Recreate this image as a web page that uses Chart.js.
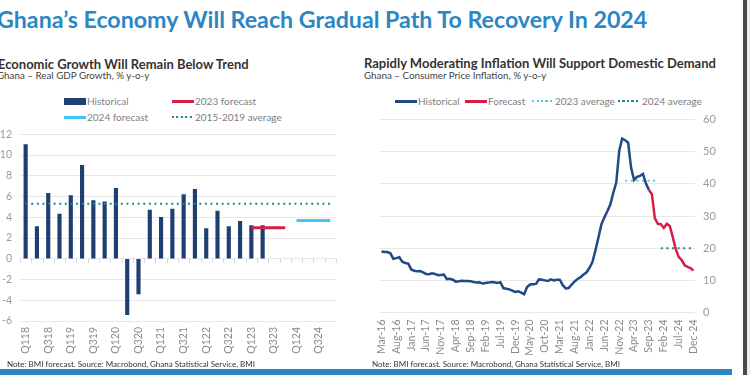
<!DOCTYPE html>
<html>
<head>
<meta charset="utf-8">
<script src="https://cdn.jsdelivr.net/npm/chart.js@4.4.1/dist/chart.umd.min.js"></script>
<style>
  body { margin: 0; width: 750px; height: 375px; overflow: hidden; background: #fff; font-family: Lato, "Noto Sans", sans-serif; position: relative; }
  .abs { position: absolute; white-space: nowrap; }
  .title { left: -3px; top: 5px; font-size: 23.2px; font-weight: bold; color: #2b87c4; }
  .sub { font-size: 13px; font-weight: bold; color: #333; }
  .subsub { font-size: 9.8px; color: #444; }
  .leg { font-size: 10px; color: #808080; line-height: 12px; }
  .note { font-size: 8px; color: #333; }
  .sw { position: absolute; }
  .dots { height: 2px; }
</style>
</head>
<body>
<div class="abs title">Ghana’s Economy Will Reach Gradual Path To Recovery In 2024</div>

<div class="abs sub" style="left:-2px; top:56px;">Economic Growth Will Remain Below Trend</div>
<div class="abs subsub" style="left:-3px; top:69px;">Ghana – Real GDP Growth, % y-o-y</div>

<div class="abs sub" style="left:364px; top:55px;">Rapidly Moderating Inflation Will Support Domestic Demand</div>
<div class="abs subsub" style="left:364px; top:69px;">Ghana – Consumer Price Inflation, % y-o-y</div>

<!-- left legend -->
<div class="sw" style="left:64px; top:98px; width:22px; height:7px; background:#1f3f73;"></div>
<div class="abs leg" style="left:87px; top:95px;">Historical</div>
<div class="sw" style="left:172px; top:100px; width:22px; height:3px; background:#d81e44;"></div>
<div class="abs leg" style="left:195px; top:95px;">2023 forecast</div>
<div class="sw" style="left:64px; top:116px; width:22px; height:3px; background:#3fc6f3;"></div>
<div class="abs leg" style="left:87px; top:111px;">2024 forecast</div>
<div class="sw dots" style="left:172px; top:116px; width:22px; background:repeating-linear-gradient(90deg,#1a8b8f 0 2px,transparent 2px 4.5px);"></div>
<div class="abs leg" style="left:195px; top:111px;">2015-2019 average</div>

<!-- right legend -->
<div class="sw" style="left:395px; top:100px; width:22px; height:3px; background:#1f4a85;"></div>
<div class="abs leg" style="left:418px; top:95px;">Historical</div>
<div class="sw" style="left:465px; top:100px; width:22px; height:3px; background:#d81e44;"></div>
<div class="abs leg" style="left:488px; top:95px;">Forecast</div>
<div class="sw dots" style="left:532px; top:100px; width:22px; background:repeating-linear-gradient(90deg,#4fcaf2 0 2px,transparent 2px 4.5px);"></div>
<div class="abs leg" style="left:555px; top:95px;">2023 average</div>
<div class="sw dots" style="left:618px; top:100px; width:22px; background:repeating-linear-gradient(90deg,#1a8b8f 0 2px,transparent 2px 4.5px);"></div>
<div class="abs leg" style="left:642px; top:95px;">2024 average</div>

<div class="abs" style="left:0; top:120px; width:340px; height:240px;"><canvas id="gdp"></canvas></div>
<div class="abs" style="left:360px; top:105px; width:370px; height:255px;"><canvas id="cpi"></canvas></div>

<div class="abs note" style="left:7px; top:359px;">Note: BMI forecast. Source: Macrobond, Ghana Statistical Service, BMI</div>
<div class="abs note" style="left:372px; top:359px;">Note: BMI forecast. Source: Macrobond, Ghana Statistical Service, BMI</div>

<div class="sw" style="left:0; top:369px; width:732px; height:6px; background:#2b87c4;"></div>
<div class="sw" style="left:743px; top:0; width:4px; height:375px; background:#4a4a4a;"></div>
<div class="sw" style="left:747px; top:0; width:3px; height:375px; background:#eeeeee;"></div>

<script>
// Left chart: real GDP growth by quarter
const quarters = ['Q118','Q218','Q318','Q418','Q119','Q219','Q319','Q419',
                  'Q120','Q220','Q320','Q420','Q121','Q221','Q321','Q421',
                  'Q122','Q222','Q322','Q422','Q123','Q223','Q323','Q423',
                  'Q124','Q224','Q324','Q424'];
const gdpHistorical = [11.0, 3.1, 6.3, 4.3, 6.1, 9.0, 5.6, 5.5, 6.8, -5.4, -3.4, 4.7,
                       4.0, 4.8, 6.2, 6.7, 2.9, 4.6, 3.1, 3.6, 3.2, 3.2];
const gdpForecast2023 = [null,null,null,null,null,null,null,null,null,null,null,null,null,null,
                         null,null,null,null,null,null,3.0,3.0,3.0,3.0,null,null,null,null];
const gdpForecast2024 = [null,null,null,null,null,null,null,null,null,null,null,null,null,null,
                         null,null,null,null,null,null,null,null,null,null,3.7,3.7,3.7,3.7];
const gdpAverage = 5.3;
const gdpTicks = [-6, -4, -2, 0, 2, 4, 6, 8, 10, 12];

// Right chart: CPI inflation by month (Mar-16 .. Dec-24)
const months = [
  'Mar-16','Apr-16','May-16','Jun-16','Jul-16','Aug-16','Sep-16','Oct-16','Nov-16','Dec-16',
  'Jan-17','Feb-17','Mar-17','Apr-17','May-17','Jun-17','Jul-17','Aug-17','Sep-17','Oct-17','Nov-17','Dec-17',
  'Jan-18','Feb-18','Mar-18','Apr-18','May-18','Jun-18','Jul-18','Aug-18','Sep-18','Oct-18','Nov-18','Dec-18',
  'Jan-19','Feb-19','Mar-19','Apr-19','May-19','Jun-19','Jul-19','Aug-19','Sep-19','Oct-19','Nov-19','Dec-19',
  'Jan-20','Feb-20','Mar-20','Apr-20','May-20','Jun-20','Jul-20','Aug-20','Sep-20','Oct-20','Nov-20','Dec-20',
  'Jan-21','Feb-21','Mar-21','Apr-21','May-21','Jun-21','Jul-21','Aug-21','Sep-21','Oct-21','Nov-21','Dec-21',
  'Jan-22','Feb-22','Mar-22','Apr-22','May-22','Jun-22','Jul-22','Aug-22','Sep-22','Oct-22','Nov-22','Dec-22',
  'Jan-23','Feb-23','Mar-23','Apr-23','May-23','Jun-23','Jul-23','Aug-23','Sep-23','Oct-23','Nov-23','Dec-23',
  'Jan-24','Feb-24','Mar-24','Apr-24','May-24','Jun-24','Jul-24','Aug-24','Sep-24','Oct-24','Nov-24','Dec-24'];
const cpiHistorical = [
  19.0, 18.8, 18.8, 18.4, 16.7, 16.9, 17.2, 15.8, 15.4, 15.2,
  13.4, 13.0, 12.8, 12.9, 12.5, 12.0, 11.9, 12.2, 12.0, 11.6, 11.7, 11.8,
  10.4, 10.5, 10.2, 9.6, 9.7, 9.9, 9.8, 9.8, 9.7, 9.5, 9.3, 9.4,
  9.0, 9.2, 9.3, 9.5, 9.4, 9.2, 9.4, 7.6, 7.4, 7.2, 6.8, 6.4,
  6.6, 6.2, 5.7, 7.9, 8.7, 8.8, 8.9, 10.3, 10.2, 10.0, 9.8, 10.3,
  10.0, 10.2, 10.2, 8.5, 7.5, 7.6, 8.7, 9.7, 10.4, 11.0, 11.8, 12.5,
  13.9, 15.7, 19.4, 23.3, 27.4, 29.6, 31.5, 33.6, 37.2, 40.4, 50.3, 54.1,
  53.6, 52.8, 45.0, 41.2, 42.2, 42.5, 43.1, 40.1, 38.1];
const cpiForecast = [38.1, 36.8, 29.3, 27.6, 27.5, 26.3, 27.6, 26.9, 23.5, 19.8, 17.3, 16.3, 14.7, 14.2, 13.8, 13.1];
const avg2023 = 41;
const avg2024 = 20;
const cpiTicks = [0, 10, 20, 30, 40, 50, 60];

const gridColor = '#e8e8e8';
const tickFont = { family: 'Lato', size: 10.5 };

// fixed axis sizes so the plot areas land where the original's do
function fixX(h) {
  return function (scale) { scale.height = h; scale.paddingLeft = 0; scale.paddingRight = 0; };
}

// small tick marks along the zero line of the GDP chart
const zeroTicks = {
  id: 'zeroTicks',
  beforeDatasetsDraw(chart) {
    const x = chart.scales.x, y = chart.scales.y, ctx = chart.ctx;
    const y0 = y.getPixelForValue(0);
    ctx.save();
    ctx.strokeStyle = '#d6d6d6';
    ctx.lineWidth = 1;
    for (let i = 0; i <= quarters.length; i++) {
      const px = Math.round(x.getPixelForValue(i - 0.5)) + 0.5;
      ctx.beginPath();
      ctx.moveTo(px, y0);
      ctx.lineTo(px, y0 + 4);
      ctx.stroke();
    }
    ctx.restore();
  }
};

new Chart(document.getElementById('gdp'), {
  type: 'bar',
  data: {
    labels: quarters,
    datasets: [
      { type: 'line', label: '2015-2019 average', data: quarters.map(() => gdpAverage),
        borderColor: '#1a8b8f', borderWidth: 2, borderDash: [2, 3.6], pointRadius: 0, order: 0 },
      { type: 'line', label: '2023 forecast', data: gdpForecast2023,
        borderColor: '#d81e44', borderWidth: 3, pointRadius: 0, order: 1 },
      { type: 'line', label: '2024 forecast', data: gdpForecast2024,
        borderColor: '#3fc6f3', borderWidth: 3, pointRadius: 0, order: 1 },
      { label: 'Historical', data: gdpHistorical, backgroundColor: '#1f3f73',
        barThickness: 3.5, order: 2 }
    ]
  },
  options: {
    responsive: true,
    maintainAspectRatio: false,
    animation: false,
    layout: { padding: { left: 0, top: 13, right: 4, bottom: 0 } },
    plugins: { legend: { display: false }, tooltip: { enabled: false } },
    scales: {
      x: {
        offset: true,
        grid: { display: false, drawTicks: false },
        border: { display: false },
        afterFit: fixX(39),
        ticks: {
          autoSkip: false, minRotation: 90, maxRotation: 90, padding: 6,
          color: '#8a8a8a', font: tickFont,
          callback(v, i) { return i % 2 === 0 ? quarters[i] : ''; }
        }
      },
      y: {
        min: -6, max: 12,
        afterFit(scale) { scale.width = 20; },
        afterBuildTicks(scale) { scale.ticks = gdpTicks.map(v => ({ value: v })); },
        grid: { color: gridColor, drawTicks: false },
        border: { display: false },
        ticks: { padding: 8, color: '#9a9a9a', font: tickFont }
      }
    }
  },
  plugins: [zeroTicks]
});

const pad = (n) => Array(n).fill(null);
const histData = cpiHistorical.concat(pad(months.length - cpiHistorical.length));
const foreData = pad(months.length - cpiForecast.length).concat(cpiForecast);
const avg23Data = months.map(m => m.endsWith('-23') ? avg2023 : null);
const avg24Data = months.map(m => m.endsWith('-24') ? avg2024 : null);

new Chart(document.getElementById('cpi'), {
  type: 'line',
  data: {
    labels: months,
    datasets: [
      { label: '2023 average', data: avg23Data, borderColor: '#4fcaf2', borderWidth: 2,
        borderDash: [2, 3.6], pointRadius: 0 },
      { label: '2024 average', data: avg24Data, borderColor: '#1a8b8f', borderWidth: 2,
        borderDash: [2, 3.6], pointRadius: 0 },
      { label: 'Historical', data: histData, borderColor: '#1f4a85', borderWidth: 2.5,
        pointRadius: 0, tension: 0 },
      { label: 'Forecast', data: foreData, borderColor: '#d81e44', borderWidth: 2.5,
        pointRadius: 0, tension: 0 }
    ]
  },
  options: {
    responsive: true,
    maintainAspectRatio: false,
    animation: false,
    layout: { padding: { left: 20, top: 12.5, right: 0, bottom: 0 } },
    plugins: { legend: { display: false }, tooltip: { enabled: false } },
    scales: {
      x: {
        offset: true,
        grid: { display: false, drawTicks: false },
        border: { display: false },
        afterFit: fixX(47.5),
        ticks: {
          autoSkip: false, minRotation: 90, maxRotation: 90, padding: 7,
          color: '#8a8a8a', font: tickFont,
          callback(v, i) { return i % 5 === 0 ? months[i] : ''; }
        }
      },
      y: {
        position: 'right',
        min: 0, max: 60,
        afterFit(scale) { scale.width = 35; },
        afterBuildTicks(scale) { scale.ticks = cpiTicks.map(v => ({ value: v })); },
        grid: { color: gridColor, drawTicks: false },
        border: { display: false },
        ticks: { padding: 8, color: '#9a9a9a', font: { family: 'Lato', size: 11 } }
      }
    }
  }
});
</script>
</body>
</html>
